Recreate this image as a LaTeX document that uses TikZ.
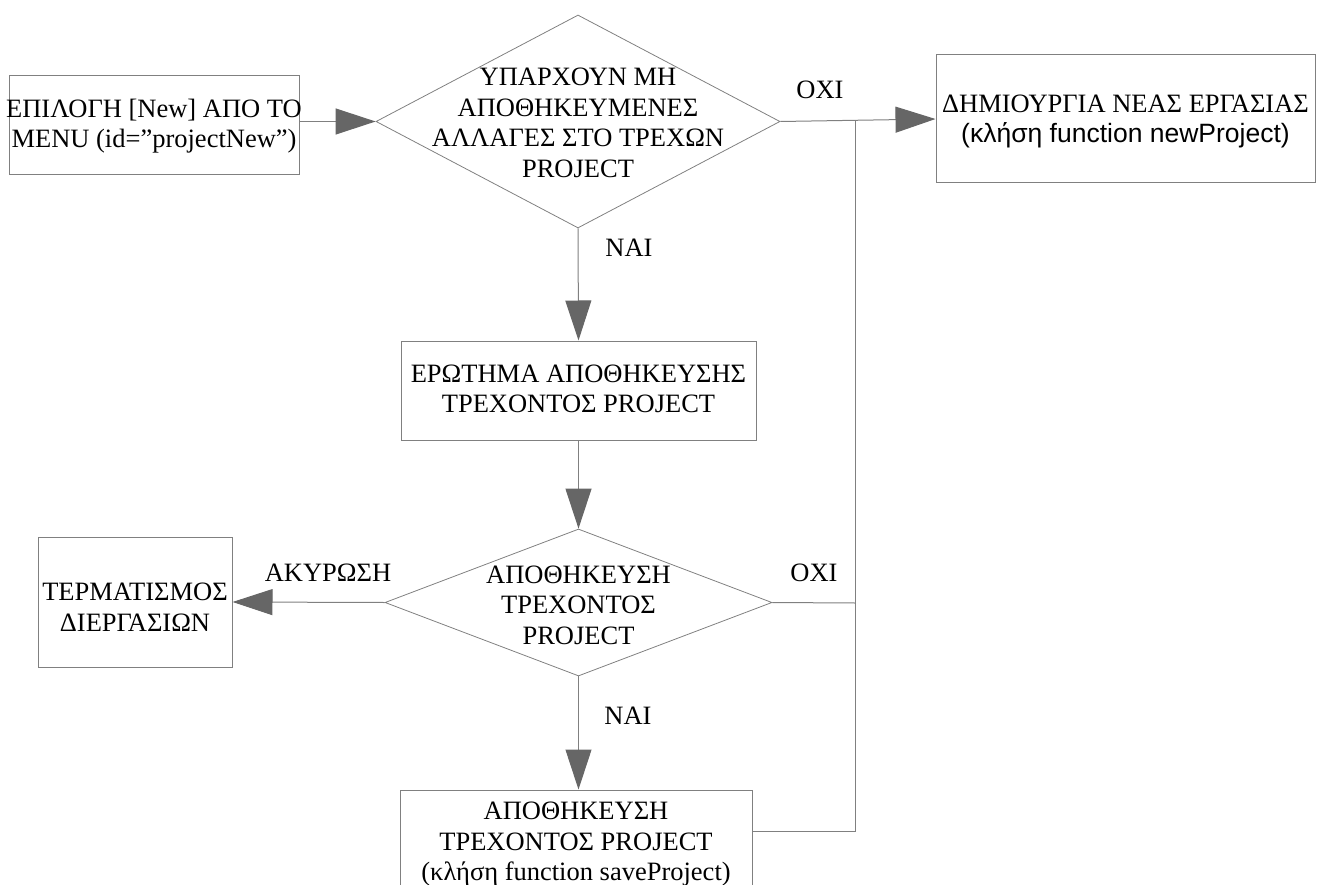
\documentclass[tikz,border=0pt]{standalone}
\usepackage{fontspec}
\setmainfont{Liberation Serif}
\newfontfamily\sansf{Liberation Sans}
\usetikzlibrary{shapes.geometric,arrows.meta}
\definecolor{linec}{HTML}{808080}
\definecolor{headc}{HTML}{666666}
\begin{document}
\begin{tikzpicture}[x=1pt,y=-1pt,
  every node/.style={font=\fontsize{26.5}{30.5}\selectfont},
  boxst/.style={draw=linec, line width=1pt, rectangle, inner sep=0pt},
  diast/.style={draw=linec, line width=0.8pt, diamond, inner sep=0pt},
  txt/.style={align=center, inner sep=0pt},
  conn/.style={draw=linec, line width=1pt},
  arr/.style={conn, -{Triangle[length=40pt,width=26pt,fill=headc,color=headc]}},
  lbl/.style={inner sep=0pt}]
\useasboundingbox (0,0) rectangle (1322,885);
% boxes
\node[boxst, minimum width=290pt, minimum height=99pt] (b1) at (154,125.5) {};
\node[txt] (t1) at (154,126) {ΕΠΙΛΟΓΗ [New] ΑΠΟ ΤΟ\\MENU (id=”projectNew”)};
\node[diast, minimum width=404pt, minimum height=213pt] (d1) at (578,121.5) {};
\node[txt] (td1) at (578,123) {ΥΠΑΡΧΟΥΝ ΜΗ\\ΑΠΟΘΗΚΕΥΜΕΝΕΣ\\ΑΛΛΑΓΕΣ ΣΤΟ ΤΡΕΧΩΝ\\PROJECT};
\node[boxst, minimum width=379pt, minimum height=128pt] (b5) at (1125.5,119) {};
\node[txt] (t5) at (1125.5,121.5) {ΔΗΜΙΟΥΡΓΙΑ ΝΕΑΣ ΕΡΓΑΣΙΑΣ\\{\sansf (κλήση function newProject)}};
\node[boxst, minimum width=355pt, minimum height=99pt] (b2) at (578.5,390.5) {};
\node[txt] (t2) at (578.5,389) {ΕΡΩΤΗΜΑ ΑΠΟΘΗΚΕΥΣΗΣ\\ΤΡΕΧΟΝΤΟΣ PROJECT};
\node[diast, minimum width=387pt, minimum height=147pt] (d2) at (578.5,602.5) {};
\node[txt] (td2) at (578.5,605) {ΑΠΟΘΗΚΕΥΣΗ\\ΤΡΕΧΟΝΤΟΣ\\PROJECT};
\node[boxst, minimum width=194pt, minimum height=130pt] (b3) at (135,602) {};
\node[txt] (t3) at (135,607) {ΤΕΡΜΑΤΙΣΜΟΣ\\ΔΙΕΡΓΑΣΙΩΝ};
\node[boxst, minimum width=352pt, minimum height=104pt] (b4) at (576,842) {};
\node[txt] (t4) at (576,844.5) {ΑΠΟΘΗΚΕΥΣΗ\\ΤΡΕΧΟΝΤΟΣ PROJECT\\(κλήση function saveProject)};
% labels
\node[lbl] (l1) at (820,90) {ΟΧΙ};
\node[lbl] (l2) at (629,248) {ΝΑΙ};
\node[lbl] (l3) at (328,573) {ΑΚΥΡΩΣΗ};
\node[lbl] (l4) at (814,573) {ΟΧΙ};
\node[lbl] (l5) at (628,716) {ΝΑΙ};
% junctions
\coordinate (j1) at (855,120);
\coordinate (j2) at (855,603);
\coordinate (j3) at (855,831);
% connectors
\draw[arr] (b1.east |- d1.west) -- (d1.west);
\draw[arr] (d1.east) -- (b5.west);
\draw[arr] (d1.south) -- (b2.north);
\draw[arr] (b2.south) -- (d2.north);
\draw[arr] (d2.west) -- (b3.east);
\draw[arr] (d2.south) -- (d2.south |- b4.north);
\draw[conn] (d2.east) -- (j2);
\draw[conn] (b4.east |- j3) -- (j3) -- (j1);
\end{tikzpicture}
\end{document}
